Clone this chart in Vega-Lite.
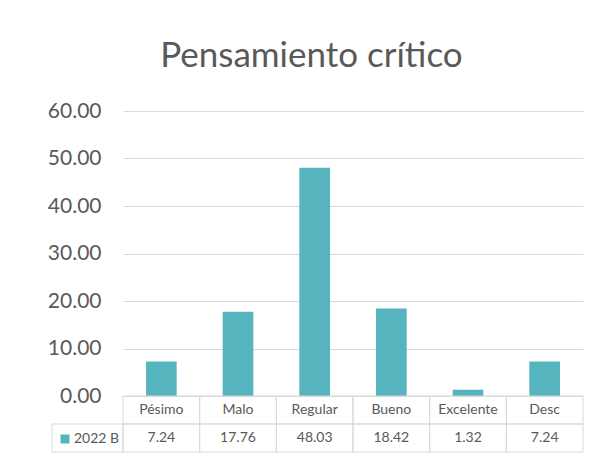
{
  "$schema": "https://vega.github.io/schema/vega-lite/v6.json",
  "padding": {"left": 47, "top": 39, "right": 5, "bottom": 5},
  "title": {"text": "Pensamiento crítico", "fontSize": 35, "font": "Lato", "fontWeight": "normal", "color": "#595959", "anchor": "middle", "offset": 26, "dx": -4},
  "datasets": {
    "main": [
      {"cat": "Pésimo", "val": 7.24},
      {"cat": "Malo", "val": 17.76},
      {"cat": "Regular", "val": 48.03},
      {"cat": "Bueno", "val": 18.42},
      {"cat": "Excelente", "val": 1.32},
      {"cat": "Desc", "val": 7.24}
    ],
    "series": [{"series": "2022 B"}]
  },
  "config": {"view": {"stroke": null}, "font": "Lato"},
  "columns": 2,
  "spacing": 0,
  "bounds": "flush",
  "resolve": {"scale": {"color": "independent"}, "legend": {"color": "independent"}},
  "concat": [
    {
      "width": 71, "height": 285,
      "data": {"name": "series"},
      "mark": {"type": "text"},
      "encoding": {"text": {"value": ""}}
    },
    {
      "width": 460, "height": 285,
      "data": {"name": "main"},
      "mark": {"type": "bar", "color": "#56B4BE"},
      "encoding": {
        "x": {"field": "cat", "type": "nominal", "sort": null, "scale": {"paddingInner": 0.6, "paddingOuter": 0.3}, "axis": null},
        "y": {"field": "val", "type": "quantitative", "scale": {"domain": [0, 60], "nice": false},
          "axis": {"values": [0, 10, 20, 30, 40, 50, 60], "format": ".2f", "grid": true, "gridColor": "#D9D9D9", "gridWidth": 1, "domain": false, "ticks": false, "labelFontSize": 21, "labelColor": "#595959", "labelPadding": 22, "title": null}}
      }
    },
    {
      "width": 71, "height": 56,
      "data": {"name": "series"},
      "layer": [
        {
          "mark": {"type": "rect", "fillOpacity": 0, "stroke": "#D9D9D9", "strokeWidth": 1},
          "encoding": {
            "y": {"datum": "v", "type": "nominal", "scale": {"type": "band", "domain": ["h", "v"], "paddingInner": 0, "paddingOuter": 0}, "axis": null}
          }
        },
        {
          "mark": {"type": "square", "opacity": 0},
          "encoding": {
            "color": {"field": "series", "type": "nominal", "scale": {"range": ["#56B4BE"]},
              "legend": {"orient": "bottom-left", "offset": 6, "title": null, "symbolType": "square", "symbolSize": 81, "symbolOpacity": 1, "symbolStrokeWidth": 0, "labelFontSize": 14, "labelColor": "#595959", "labelFont": "Lato", "padding": 0, "labelOffset": 2}}
          }
        }
      ]
    },
    {
      "width": 460, "height": 56,
      "data": {"name": "main"},
      "encoding": {
        "x": {"field": "cat", "type": "nominal", "sort": null, "scale": {"type": "band", "paddingInner": 0, "paddingOuter": 0}, "axis": null}
      },
      "layer": [
        {
          "mark": {"type": "rect", "fillOpacity": 0, "stroke": "#D9D9D9", "strokeWidth": 1},
          "encoding": {"y": {"datum": "h", "type": "nominal", "scale": {"type": "band", "domain": ["h", "v"], "paddingInner": 0, "paddingOuter": 0}, "axis": null}}
        },
        {
          "mark": {"type": "rect", "fillOpacity": 0, "stroke": "#D9D9D9", "strokeWidth": 1},
          "encoding": {"y": {"datum": "v", "type": "nominal"}}
        },
        {
          "mark": {"type": "text", "fontSize": 14, "color": "#595959"},
          "encoding": {"y": {"datum": "h", "type": "nominal"}, "text": {"field": "cat", "type": "nominal"}}
        },
        {
          "mark": {"type": "text", "fontSize": 14, "color": "#595959"},
          "encoding": {"y": {"datum": "v", "type": "nominal"}, "text": {"field": "val", "type": "quantitative", "format": ".2f"}}
        }
      ]
    }
  ]
}
